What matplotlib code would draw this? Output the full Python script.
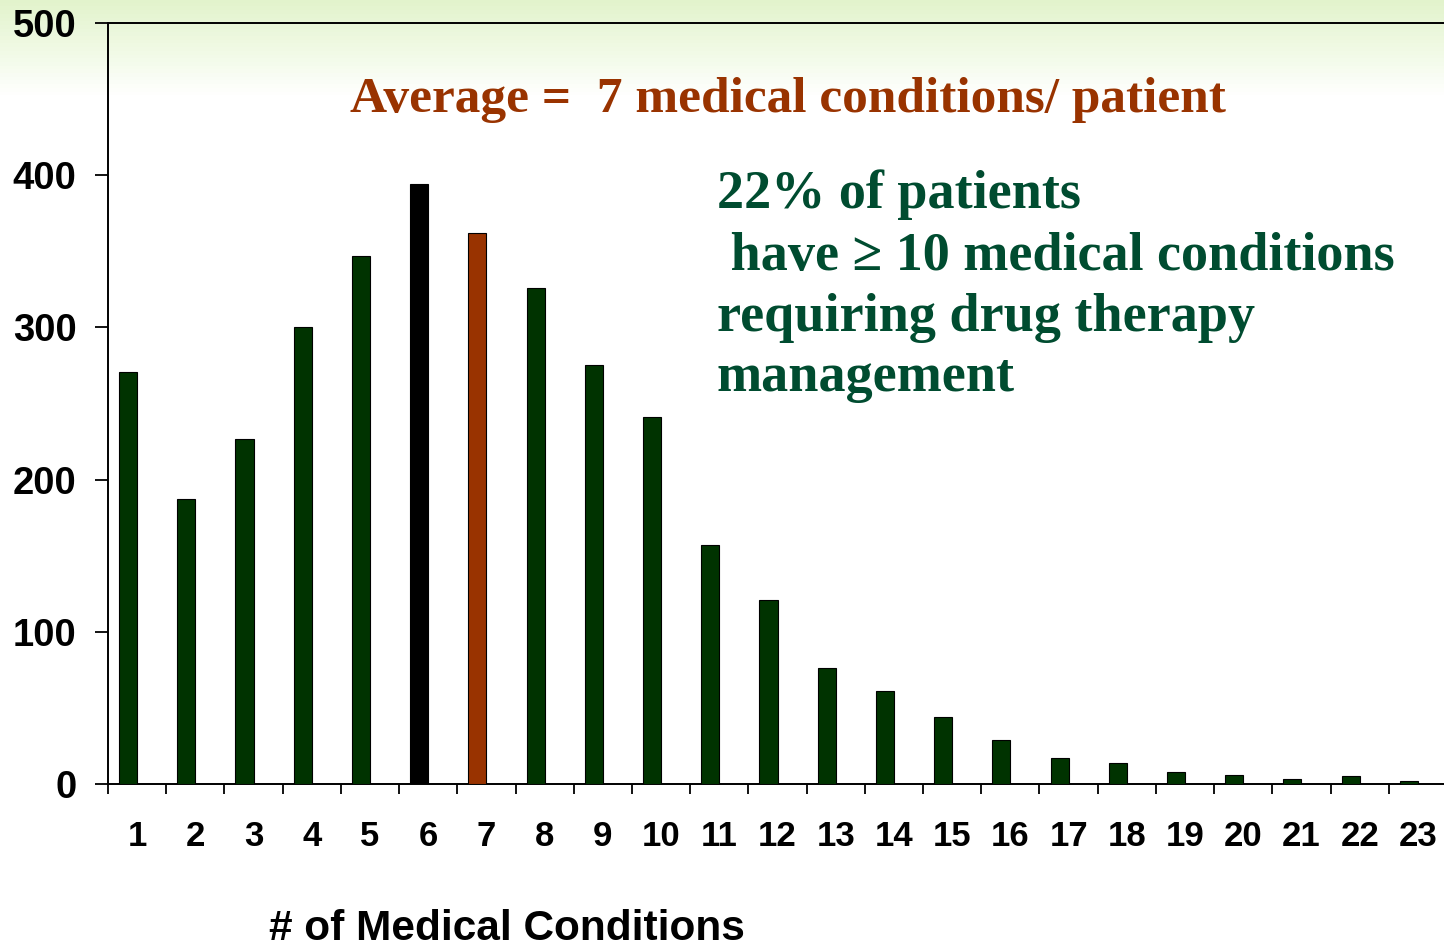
import numpy as np
import matplotlib
matplotlib.use("Agg")
import matplotlib.pyplot as plt
from matplotlib.colors import LinearSegmentedColormap

categories = list(range(1, 24))
counts = [271, 187, 227, 300, 347, 394, 362, 326, 275, 241, 157, 121,
          76, 61, 44, 29, 17, 14, 8, 6, 3, 5, 2]
bar_colors = ["#003300"] * 5 + ["#000000", "#993300"] + ["#003300"] * 16
yticks = [0, 100, 200, 300, 400, 500]

W, H = 1444, 947
fig = plt.figure(figsize=(W / 100, H / 100), dpi=100)

# background gradient
bg = fig.add_axes([0, 0, 1, 1], zorder=-10)
grad = np.linspace(0, 1, 256).reshape(-1, 1)
cmap = LinearSegmentedColormap.from_list("g", [(0, "#e2f3cc"), (0.06, "#f3fbe9"), (0.1, "#ffffff"), (1, "#ffffff")])
bg.imshow(grad, aspect="auto", cmap=cmap, extent=[0, 1, 0, 1], origin="upper")
bg.axis("off")

ax = fig.add_axes([108 / W, 1 - 784 / H, 1339 / W, (784 - 23) / H])
ax.patch.set_alpha(0)
x = np.array(categories)
ax.bar(x - 0.155, counts, width=0.31, color=bar_colors, edgecolor="black", linewidth=0.8, zorder=3)

ax.set_xlim(0.5, 23.5)
ax.set_ylim(0, 500)
ax.set_yticks(yticks)
ax.set_yticklabels([str(v) for v in yticks])
ax.set_xticks(x)
ax.set_xticklabels([str(c) for c in categories])
ax.set_xticks(np.arange(0.5, 24, 1), minor=True)
ax.tick_params(axis="x", which="major", length=0, pad=26)
ax.tick_params(axis="x", which="minor", length=7.5, width=1.3, direction="out")
ax.tick_params(axis="y", which="major", length=9.5, width=1.3, direction="out", pad=13)
for lab in ax.get_xticklabels():
    lab.set_fontfamily("Liberation Sans")
    lab.set_fontweight("bold")
    lab.set_fontsize(25)
for lab in ax.get_yticklabels():
    lab.set_fontfamily("Liberation Sans")
    lab.set_fontweight("bold")
    lab.set_fontsize(27.5)
for s in ["left", "bottom", "top"]:
    ax.spines[s].set_linewidth(1.4)
ax.spines["right"].set_visible(False)

fig.text(507 / W, 1 - 940 / H, "# of Medical Conditions", ha="center", va="baseline",
         family="Liberation Sans", weight="bold", fontsize=30.5)

fig.text(350 / W, 1 - 112 / H, "Average =  7 medical conditions/ patient", ha="left", va="baseline",
         family="Liberation Serif", weight="bold", fontsize=37, color="#993300")

green_lines = ["22% of patients", " have \u2265 10 medical conditions", "requiring drug therapy", "management"]
baselines = [208, 270, 331, 391]
for t, b in zip(green_lines, baselines):
    fig.text(717 / W, 1 - b / H, t, ha="left", va="baseline",
             family="Liberation Serif", weight="bold", fontsize=39, color="#004C30")

fig.savefig("out.png", dpi=100)
